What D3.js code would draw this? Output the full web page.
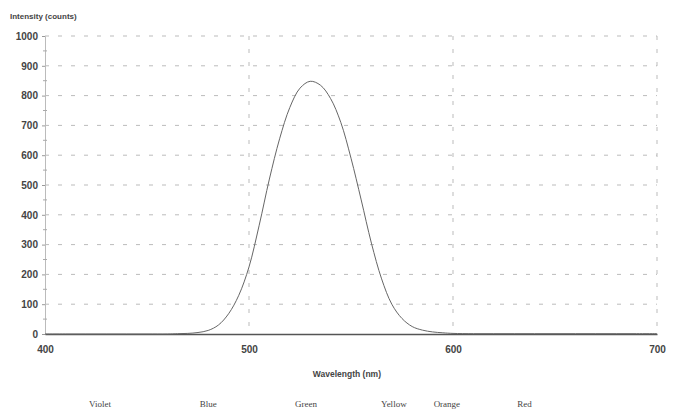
<!DOCTYPE html>
<html>
<head>
<meta charset="utf-8">
<script src="https://cdn.jsdelivr.net/npm/d3@7"></script>
<style>
body{margin:0;background:#fff;}
svg text{font-family:"Liberation Sans",Arial,sans-serif;}
</style>
</head>
<body>
<div id="chartContainer"></div>
<script>
// spectrum
const wavelengths=[400,410,420,430,440,450,460,465,470,475,480,485,490,495,500,505,510,515,520,525,530,535,540,545,550,555,560,565,570,575,580,585,590,595,600,610,620,630,640,650,660,670,680,690,700];
const intensity=[0,0,0,0,0,0,0,1,2,5,12,30,68,130,225,365,520,655,760,825,848,835,790,710,590,450,305,185,100,52,25,13,7,4,2,1,1,1,1,1,1,1,1,1,1];
const xTicks=[400,500,600,700];
const yTicks=[0,100,200,300,400,500,600,700,800,900,1000];
const colorNames=["Violet","Blue","Green","Yellow","Orange","Red"];
const colorPos=[427,480,528,571,597,635];

const W=678,H=413;
const margin={top:36,right:21,bottom:79,left:45},
    width=W-margin.left-margin.right,
    height=H-margin.top-margin.bottom;

const data=wavelengths.map((w,i)=>({w:w,v:intensity[i]}));

const x=d3.scaleLinear().domain([400,700]).range([0,width]);
const y=d3.scaleLinear().domain([0,1000]).range([height,0]);

const svg=d3.select("#chartContainer")
    .append("svg")
    .attr("width",W)
    .attr("height",H)
    .append("g")
    .attr("transform",`translate(${margin.left},${margin.top})`);

// dashed grid
svg.append("g")
    .selectAll("line")
    .data(yTicks.slice(1))
    .join("line")
    .attr("x1",0).attr("x2",width)
    .attr("y1",d=>y(d)).attr("y2",d=>y(d))
    .attr("stroke","#bbb")
    .attr("stroke-width",1)
    .attr("stroke-dasharray","4,9");
svg.append("g")
    .selectAll("line")
    .data(xTicks.slice(1))
    .join("line")
    .attr("x1",d=>x(d)).attr("x2",d=>x(d))
    .attr("y1",0).attr("y2",height)
    .attr("stroke","#bbb")
    .attr("stroke-width",1)
    .attr("stroke-dasharray","4,9");

// y axis (faint) with minor ticks
const yAxis=svg.append("g")
    .call(d3.axisLeft(y).tickValues(yTicks).tickFormat(d3.format("d")).tickSize(3).tickPadding(4));
yAxis.select(".domain").attr("stroke","#bbb");
yAxis.selectAll(".tick line").attr("stroke","#999");
yAxis.selectAll("text")
    .attr("fill","#444")
    .style("font-size","10px")
    .style("font-weight","bold");
svg.append("g")
    .selectAll("line")
    .data(d3.range(50,1000,100))
    .join("line")
    .attr("x1",-2).attr("x2",2)
    .attr("y1",d=>y(d)).attr("y2",d=>y(d))
    .attr("stroke","#aaa");

// x axis
const xAxis=svg.append("g")
    .attr("transform",`translate(0,${height})`)
    .call(d3.axisBottom(x).tickValues(xTicks).tickSize(0).tickPadding(12));
xAxis.select(".domain").attr("stroke","#555").attr("stroke-width",1.3);
xAxis.selectAll("text")
    .attr("fill","#444")
    .style("font-size","10px")
    .style("font-weight","bold");

// spectrum curve
svg.append("path")
    .datum(data)
    .attr("fill","none")
    .attr("stroke","#666")
    .attr("stroke-width",1)
    .attr("d",d3.line()
        .x(d=>x(d.w))
        .y(d=>y(d.v))
        .curve(d3.curveCatmullRom));

// axis titles
svg.append("text")
    .attr("x",-35)
    .attr("y",-17)
    .attr("fill","#444")
    .style("font-size","8px")
    .style("font-weight","bold")
    .text("Intensity (counts)");
svg.append("text")
    .attr("x",x(548))
    .attr("y",height+43)
    .attr("text-anchor","middle")
    .attr("fill","#444")
    .style("font-size","8.5px")
    .style("font-weight","bold")
    .text("Wavelength (nm)");

// colour names
svg.append("g")
    .selectAll("text")
    .data(colorNames)
    .join("text")
    .attr("x",(d,i)=>x(colorPos[i]))
    .attr("y",height+73)
    .attr("text-anchor","middle")
    .attr("fill","#444")
    .style("font-family","'Liberation Serif',serif")
    .style("font-size","9px")
    .text(d=>d);
</script>
</body>
</html>
